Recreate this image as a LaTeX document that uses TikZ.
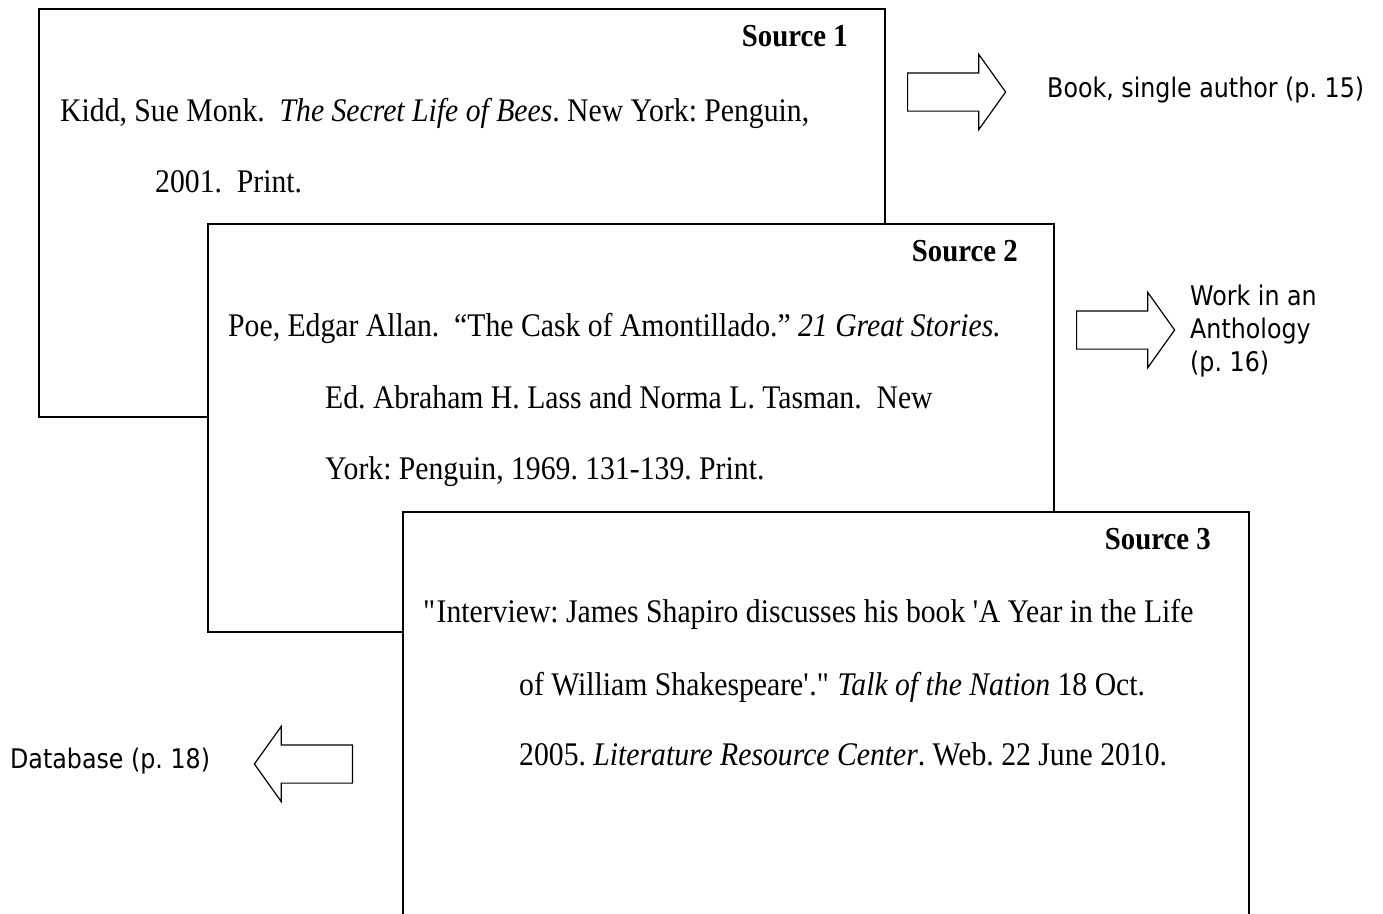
\documentclass[tikz,border=0pt]{standalone}
\usepackage{fontspec}
\setmainfont{Liberation Serif}[FakeStretch=0.9]
\newfontfamily\notefont{DejaVu Sans}[FakeStretch=0.88]
\usetikzlibrary{shapes.arrows}
\frenchspacing
\tikzset{
    % Define style for the source cards
    card/.style={
        rectangle,
        draw, line width=1.6pt,
        fill=white,
        anchor=north west,
        minimum width=846pt,
        minimum height=408pt},
    % citation lines and card titles
    entry/.style={anchor=base west, inner sep=0pt,
        font=\fontsize{33}{35}\selectfont},
    heading/.style={anchor=base east, inner sep=0pt,
        font=\fontsize{32}{34}\selectfont\bfseries},
    % Define style for the block arrows
    blockarrow/.style={
        single arrow, draw, line width=1.2pt, fill=white,
        minimum height=98pt, inner xsep=0pt, inner ysep=18.5pt,
        single arrow head extend=18.5pt, single arrow tip angle=109},
    note/.style={anchor=base west, inner sep=0pt, align=left,
        font=\notefont\fontsize{27}{33}\selectfont}
}
\begin{document}
\begin{tikzpicture}[x=1pt, y=-1pt]
    \clip (0,0) rectangle (1383,913);
    \fill[white] (0,0) rectangle (1383,913);
    % first card
    \node[card] (cardone) at (38,8) {};
    \node[heading] (titleone) at (848,46) {Source 1};
    \node[entry] (kidd) at (60,121) {Kidd, Sue Monk.\ \ \textit{The Secret Life of Bees}. New York: Penguin,};
    \node[entry] (kiddb) at (155,192) {2001.\ \ Print.};
    % second card
    \node[card] (cardtwo) at (207,223) {};
    \node[heading] (titletwo) at (1018,261) {Source 2};
    \node[entry] (poe) at (228,336) {Poe, Edgar Allan.\ \ “The Cask of Amontillado.” \textit{21 Great Stories.}};
    \node[entry] (poeb) at (325,408) {Ed. Abraham H. Lass and Norma L. Tasman.\ \ New};
    \node[entry] (poec) at (325,479) {York: Penguin, 1969. 131-139. Print.};
    % third card, runs off the bottom
    \node[card] (cardthree) at (402,511) {};
    \node[heading] (titlethree) at (1211,549) {Source 3};
    \node[entry] (shapiro) at (423,622) {\textquotedbl Interview: James Shapiro discusses his book \textquotesingle A Year in the Life};
    \node[entry] (shapirob) at (519,695) {of William Shakespeare\textquotesingle .\textquotedbl\ \textit{Talk of the Nation} 18 Oct.};
    \node[entry] (shapiroc) at (519,765) {2005. \textit{Literature Resource Center}. Web. 22 June 2010.};
    % arrows and page notes
    \node[blockarrow, anchor=tail] (arrowone) at (907,92) {};
    \node[note] (bookone) at (1047,97) {Book, single author (p. 15)};
    \node[blockarrow, anchor=tail] (arrowtwo) at (1076,330) {};
    \node[note] (anthology) at (1190,371) {Work in an\\Anthology\\(p. 16)};
    \node[blockarrow, anchor=tail, shape border rotate=180] (arrowthree) at (353,764) {};
    \node[note] (database) at (10,768) {Database (p. 18)};
\end{tikzpicture}
\end{document}
